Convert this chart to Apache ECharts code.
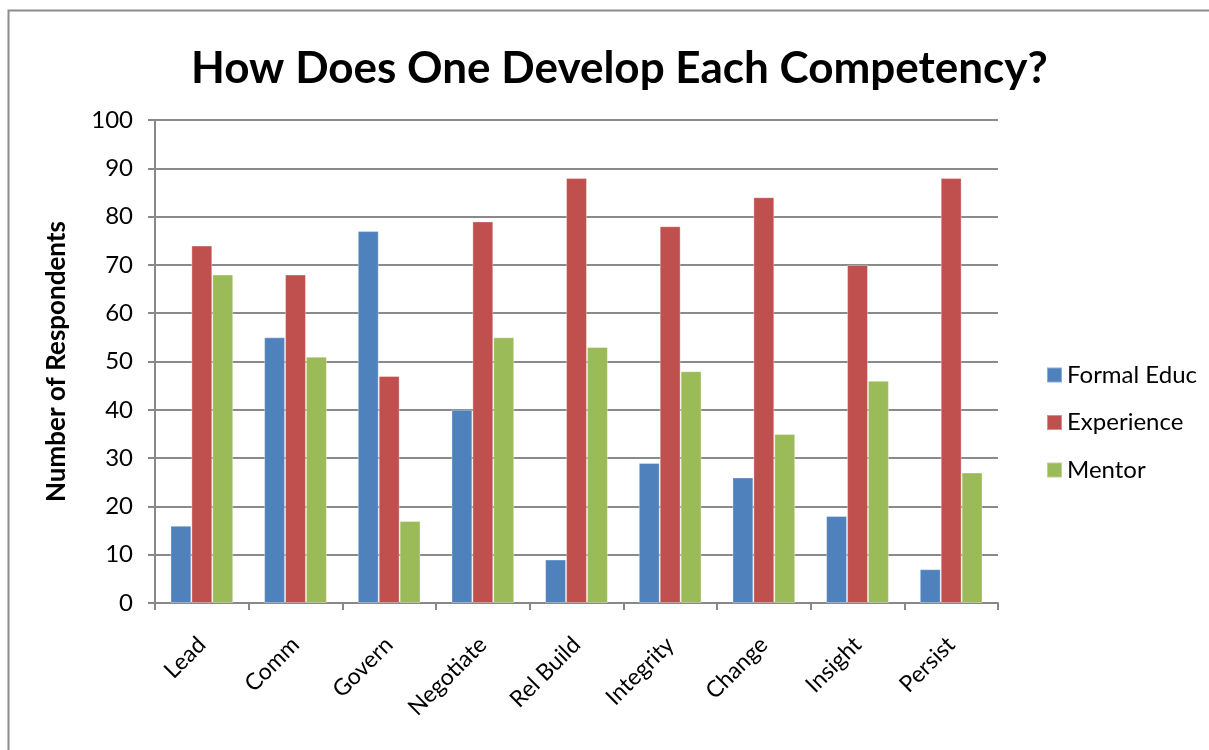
<!DOCTYPE html>
<html><head><meta charset="utf-8">
<script src="https://cdn.jsdelivr.net/npm/echarts@6/dist/echarts.min.js"></script>
<style>html,body{margin:0;padding:0;background:#fff}#c{width:1209px;height:750px}</style>
</head><body><div id="c"></div>
<script>
const categories = ['Lead','Comm','Govern','Negotiate','Rel Build','Integrity','Change','Insight','Persist'];
const formalEduc = [16,55,77,40,9,29,26,18,7];
const experience = [74,68,47,79,88,78,84,70,88];
const mentor = [68,51,17,55,53,48,35,46,27];
const seriesNames = ['Formal Educ','Experience','Mentor'];
const colors = ['#4F81BD','#C0504D','#9BBB59'];
const FONT = 'Lato, "Open Sans", sans-serif';

const chart = echarts.init(document.getElementById('c'), null, {renderer:'canvas'});
const mk = (name, data, i) => ({
  name, type:'bar', data, barGap:'0%', barCategoryGap:'33%',
  itemStyle:{color:colors[i], borderColor:'rgba(255,255,255,0.35)', borderWidth:1},
  animation:false
});
chart.setOption({
  animation:false,
  textStyle:{fontFamily:FONT},
  title:{text:'How Does One Develop Each Competency?', left:186, top:42,
    textStyle:{fontFamily:FONT, fontSize:44, fontWeight:'bold', color:'#000'}},
  graphic:[{type:'rect', left:6, top:8, shape:{width:1400, height:900},
    style:{fill:'none', stroke:'#8c8c8c', lineWidth:2}, silent:true}],
  legend:{orient:'vertical', left:1041, top:358, itemWidth:15, itemHeight:15, itemGap:23.5,
    icon:'rect', data:seriesNames,
    textStyle:{fontFamily:FONT, fontSize:24, color:'#000', lineHeight:24}},
  grid:{left:155, right:211, top:120, bottom:147, containLabel:false},
  xAxis:{type:'category', data:categories, boundaryGap:true,
    axisLine:{lineStyle:{color:'#888', width:2}},
    axisTick:{show:true, length:7, alignWithLabel:false, lineStyle:{color:'#888', width:2}},
    axisLabel:{rotate:45, fontFamily:FONT, fontSize:23, color:'#000', margin:38, interval:0}},
  yAxis:{type:'value', min:0, max:100, interval:10,
    name:'Number of Respondents', nameLocation:'middle', nameGap:85, nameRotate:90,
    nameTextStyle:{fontFamily:FONT, fontSize:26, fontWeight:'bold', color:'#000'},
    axisLine:{show:true, lineStyle:{color:'#888', width:2}},
    axisTick:{show:true, length:7, lineStyle:{color:'#888', width:2}},
    axisLabel:{fontFamily:FONT, fontSize:24, color:'#000', margin:22},
    splitLine:{lineStyle:{color:'#8a8a8a', width:2}}},
  series:[mk(seriesNames[0], formalEduc, 0), mk(seriesNames[1], experience, 1), mk(seriesNames[2], mentor, 2)]
});
</script></body></html>
